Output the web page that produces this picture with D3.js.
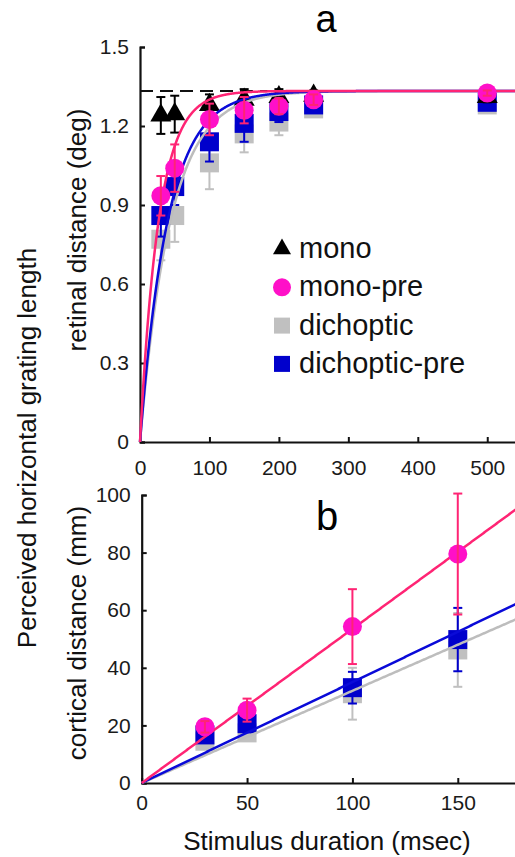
<!DOCTYPE html>
<html>
<head>
<meta charset="utf-8">
<script src="https://cdnjs.cloudflare.com/ajax/libs/d3/7.8.5/d3.min.js"></script>
<style>
body { margin: 0; background: #fff; }
svg { font-family: "Liberation Sans", Arial, sans-serif; display: block; }
</style>
</head>
<body>
<svg id="chart"></svg>
<script>
// panel a: retinal distance (deg)
var durationsA = [30, 50, 100, 150, 200, 250, 500]
var monoA = [1.24, 1.245, 1.28, 1.30, 1.31, 1.315, 1.31]
var monoErrA = [0.07, 0.07, 0.04, 0.04, 0.03, 0.02, 0.02]
var monoPreA = [0.935, 1.04, 1.225, 1.26, 1.275, 1.30, 1.325]
var monoPreErrA = [0.075, 0.09, 0.06, 0.05, 0.03, 0.02, 0.01]
var dichA = [0.77, 0.86, 1.06, 1.17, 1.215, 1.265, 1.28]
var dichErrA = [0.08, 0.1, 0.1, 0.07, 0.05, 0.02, 0.01]
var dichPreA = [0.86, 0.97, 1.14, 1.21, 1.255, 1.28, 1.29]
var dichPreErrA = [0.08, 0.07, 0.075, 0.07, 0.04, 0.02, 0.01]
var asymptoteA = 1.333
var tauMonoPre = 27, tauDichPre = 40, tauDich = 44
var xTicksA = [0, 100, 200, 300, 400, 500]
var yTicksA = [0, 0.3, 0.6, 0.9, 1.2, 1.5]

// panel b: cortical distance (mm)
var durationsB = [30, 50, 100, 150]
var monoPreB = [19.5, 25.3, 54.3, 79.5]
var monoPreErrB = [2, 4, 13, 21]
var dichPreB = [16.7, 20.6, 33.1, 49.8]
var dichPreErrB = [2, 3, 5.5, 11]
var dichB = [14.5, 17.4, 31, 46.2]
var dichErrB = [2, 2, 9, 12.8]
var slopeMonoPre = 0.535, slopeDichPre = 0.35, slopeDich = 0.32
var xTicksB = [0, 50, 100, 150]
var yTicksB = [0, 20, 40, 60, 80, 100]

var legendNames = ["mono", "mono-pre", "dichoptic", "dichoptic-pre"]

var colors = {
  mono: "#000000",
  monoPre: "#ff10c8",
  monoPreLine: "#ff2474",
  dich: "#c0c0c0",
  dichLine: "#bdbdbd",
  dichPre: "#0000cc",
  dichPreLine: "#0a0ad8",
}

var width = 515
var height = 857

var svg = d3.select("#chart")
    .attr("width", width)
    .attr("height", height)

var xA = d3.scaleLinear().domain([0, 545]).range([140, 518.5])
var yA = d3.scaleLinear().domain([0, 1.5]).range([442, 47])
var xB = d3.scaleLinear().domain([0, 180]).range([141.7, 521])
var yB = d3.scaleLinear().domain([0, 100]).range([783, 495])

function styleAxis(g) {
  g.attr("font-size", null).attr("font-family", null)
  g.select(".domain").attr("stroke", "#111").attr("stroke-width", 2.2)
  g.selectAll(".tick line").attr("stroke", "#111").attr("stroke-width", 2)
  g.selectAll(".tick text").style("font-size", "21px").attr("fill", "#1a1a1a")
}

function drawAxes(x, y, xTicks, yTicks, yFmt, xPad) {
  svg.append("g")
    .attr("transform", "translate(0," + y.range()[0] + ")")
    .call(d3.axisBottom(x).tickValues(xTicks).tickSizeInner(-5).tickSizeOuter(0).tickPadding(xPad))
    .call(styleAxis)
  svg.append("g")
    .attr("transform", "translate(" + x.range()[0] + ",0)")
    .call(d3.axisLeft(y).tickValues(yTicks).tickFormat(yFmt).tickSizeInner(-5).tickSizeOuter(-5).tickPadding(11))
    .call(styleAxis)
}

function errorBars(xs, ys, es, x, y, color) {
  var g = svg.append("g").attr("stroke", color).attr("stroke-width", 2).attr("fill", "none")
  xs.forEach(function(d, i) {
    var cx = x(d), top = y(ys[i] + es[i]), bot = y(ys[i] - es[i])
    g.append("line").attr("x1", cx).attr("x2", cx).attr("y1", top).attr("y2", bot)
    g.append("line").attr("x1", cx - 4.5).attr("x2", cx + 4.5).attr("y1", top).attr("y2", top)
    g.append("line").attr("x1", cx - 4.5).attr("x2", cx + 4.5).attr("y1", bot).attr("y2", bot)
  })
}

function marker(g, type, cx, cy, s, color) {
  if (type == "circle") {
    g.append("circle").attr("cx", cx).attr("cy", cy).attr("r", s / 2).attr("fill", color)
  } else if (type == "square") {
    g.append("rect").attr("x", cx - s / 2).attr("y", cy - s / 2).attr("width", s).attr("height", s).attr("fill", color)
  } else {
    var h = s * Math.sqrt(3) / 2
    g.append("path")
      .attr("d", "M" + cx + "," + (cy - h * 2 / 3) + "L" + (cx + s / 2) + "," + (cy + h / 3) + "L" + (cx - s / 2) + "," + (cy + h / 3) + "Z")
      .attr("fill", color)
  }
}

function markers(xs, ys, x, y, type, s, color) {
  var g = svg.append("g")
  xs.forEach(function(d, i) {
    marker(g, type, x(d), y(ys[i]), s, color)
  })
}

function curve(fn, x, y, maxX, color, w) {
  var pts = d3.range(0, maxX + 0.5, 0.5)
  svg.append("path")
    .datum(pts)
    .attr("fill", "none")
    .attr("stroke", color)
    .attr("stroke-width", w)
    .attr("d", d3.line().x(d => x(d)).y(d => y(fn(d))))
}

// ---------- panel a ----------
drawAxes(xA, yA, xTicksA, yTicksA, d => d === 0 ? "0" : d3.format(".1f")(d), 18)

svg.append("line")
  .attr("x1", xA(0)).attr("x2", width)
  .attr("y1", yA(asymptoteA)).attr("y2", yA(asymptoteA))
  .attr("stroke", "#111").attr("stroke-width", 2)
  .attr("stroke-dasharray", "13,7")

markers(durationsA, dichA, xA, yA, "square", 19, colors.dich)
errorBars(durationsA, dichA, dichErrA, xA, yA, colors.dich)
markers(durationsA, dichPreA, xA, yA, "square", 19, colors.dichPre)
errorBars(durationsA, dichPreA, dichPreErrA, xA, yA, colors.dichPre)
markers(durationsA, monoA, xA, yA, "triangle", 21, colors.mono)
errorBars(durationsA, monoA, monoErrA, xA, yA, colors.mono)

curve(t => asymptoteA * (1 - Math.exp(-t / tauDich)), xA, yA, 545, colors.dichLine, 2.5)
curve(t => asymptoteA * (1 - Math.exp(-t / tauDichPre)), xA, yA, 545, colors.dichPreLine, 2.5)
curve(t => asymptoteA * (1 - Math.exp(-t / tauMonoPre)), xA, yA, 545, colors.monoPreLine, 2.5)

markers(durationsA, monoPreA, xA, yA, "circle", 19, colors.monoPre)
errorBars(durationsA, monoPreA, monoPreErrA, xA, yA, colors.monoPreLine)

// legend
var legendTypes = ["triangle", "circle", "square", "square"]
var legendColors = [colors.mono, colors.monoPre, colors.dich, colors.dichPre]
var legend = svg.append("g")
legendNames.forEach(function(name, i) {
  var cy = 249 + i * 38.3
  marker(legend, legendTypes[i], 282, cy, i < 2 ? 18 : 16, legendColors[i])
  legend.append("text")
    .attr("x", 299)
    .attr("y", cy + 9)
    .style("font-size", "29px")
    .attr("fill", "#111")
    .text(name)
})

svg.append("text")
  .attr("x", 326).attr("y", 32)
  .attr("text-anchor", "middle")
  .style("font-size", "38px")
  .text("a")

// ---------- panel b ----------
drawAxes(xB, yB, xTicksB, yTicksB, d3.format("d"), 12)

markers(durationsB, dichB, xB, yB, "square", 19, colors.dich)
errorBars(durationsB, dichB, dichErrB, xB, yB, colors.dich)
markers(durationsB, dichPreB, xB, yB, "square", 19, colors.dichPre)
errorBars(durationsB, dichPreB, dichPreErrB, xB, yB, colors.dichPre)

curve(t => slopeDich * t, xB, yB, 180, colors.dichLine, 2.5)
curve(t => slopeDichPre * t, xB, yB, 180, colors.dichPreLine, 2.5)
curve(t => slopeMonoPre * t, xB, yB, 180, colors.monoPreLine, 2.5)

markers(durationsB, monoPreB, xB, yB, "circle", 19, colors.monoPre)
errorBars(durationsB, monoPreB, monoPreErrB, xB, yB, colors.monoPreLine)

svg.append("text")
  .attr("x", 327).attr("y", 530)
  .attr("text-anchor", "middle")
  .style("font-size", "40px")
  .text("b")

// ---------- axis titles ----------
function vTitle(x, y, txt) {
  svg.append("text")
    .attr("transform", "translate(" + x + "," + y + ") rotate(-90)")
    .attr("text-anchor", "middle")
    .style("font-size", "26px")
    .attr("fill", "#111")
    .text(txt)
}
vTitle(86, 230, "retinal distance (deg)")
vTitle(86, 633, "cortical distance (mm)")
vTitle(36, 448, "Perceived horizontal grating length")

svg.append("text")
  .attr("x", 327).attr("y", 850)
  .attr("text-anchor", "middle")
  .style("font-size", "26px")
  .attr("fill", "#111")
  .text("Stimulus duration (msec)")
</script>
</body>
</html>
